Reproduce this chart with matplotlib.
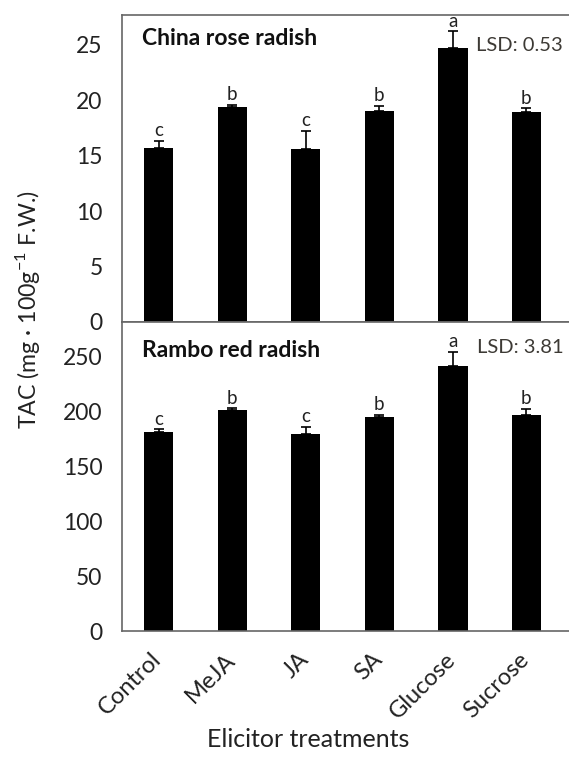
# Total anthocyanin content of two radish cultivars under elicitor treatments.

import matplotlib.pyplot as plt
from matplotlib.transforms import ScaledTranslation

plt.rcParams['font.family'] = ['Lato', 'DejaVu Sans']
plt.rcParams['mathtext.fontset'] = 'custom'
plt.rcParams['mathtext.rm'] = 'Lato'

treatments = ['Control', 'MeJA', 'JA', 'SA', 'Glucose', 'Sucrose']

china_mean = [15.7, 19.4, 15.55, 19.0, 24.65, 18.95]
china_err = [0.6, 0.15, 1.65, 0.5, 1.55, 0.3]
china_letters = ['c', 'b', 'c', 'b', 'a', 'b']

rambo_mean = [181.0, 201.3, 178.8, 194.3, 241.0, 196.0]
rambo_err = [2.4, 1.2, 7.0, 2.4, 12.6, 5.8]
rambo_letters = ['c', 'b', 'c', 'b', 'a', 'b']


def panel(ax, means, errs, letters, title, title_y, lsd, lsd_y, ymax, yticks, gap):
    x = range(len(treatments))
    ax.bar(x, means, width=0.4, color='black')
    ax.errorbar(x, means, yerr=[[0] * len(errs), errs], fmt='none',
                ecolor='black', elinewidth=1.2, capsize=3.5, capthick=1.2)
    for i in x:
        ax.text(i, means[i] + errs[i] + gap, letters[i], ha='center',
                va='bottom', fontsize=13.5, color='#222222')
    ax.text(0.045, title_y, title, transform=ax.transAxes, fontsize=16.5,
            fontweight='bold', va='center', color='#111111')
    ax.text(0.987, lsd_y, 'LSD: ' + lsd, transform=ax.transAxes, fontsize=14.5,
            ha='right', va='center', color='#3d3a35')
    ax.set_xlim(-0.5, 5.58)
    ax.set_ylim(0, ymax)
    ax.set_yticks(yticks)
    ax.tick_params(axis='y', length=0, labelsize=16.5, pad=14, labelcolor='#222222')
    ax.spines['right'].set_visible(False)
    for s in ['left', 'top', 'bottom']:
        ax.spines[s].set_color('#666666')
        ax.spines[s].set_linewidth(1.2)


fig = plt.figure(figsize=(5.69, 7.58), dpi=100)
ax1 = fig.add_axes([0.2144, 0.5752, 0.7856, 0.405])
ax2 = fig.add_axes([0.2144, 0.1675, 0.7856, 0.4077])

panel(ax1, china_mean, china_err, china_letters, 'China rose radish', 0.925,
      '0.53', 0.902, 27.66, [0, 5, 10, 15, 20, 25], 0.15)
panel(ax2, rambo_mean, rambo_err, rambo_letters, 'Rambo red radish', 0.909,
      '3.81', 0.916, 281, [0, 50, 100, 150, 200, 250], 1.5)

ax1.set_xticks([])
ax2.set_xticks(range(len(treatments)))
ax2.set_xticklabels(treatments, rotation=45, ha='right', rotation_mode='anchor',
                    fontsize=17, color='#222222')
ax2.tick_params(axis='x', length=0, pad=10)
shift = ScaledTranslation(-8 / 100, -4 / 100, fig.dpi_scale_trans)
for lab in ax2.get_xticklabels():
    lab.set_transform(lab.get_transform() + shift)

fig.text(0.542, 0.024, 'Elicitor treatments', ha='center', va='center',
         fontsize=18, color='#222222')
fig.text(0.049, 0.591, 'TAC (mg · 100g$^{-1}$ F.W.)', rotation=90, ha='center',
         va='center', fontsize=16.7, color='#222222')

fig.savefig('out.png', dpi=100)
